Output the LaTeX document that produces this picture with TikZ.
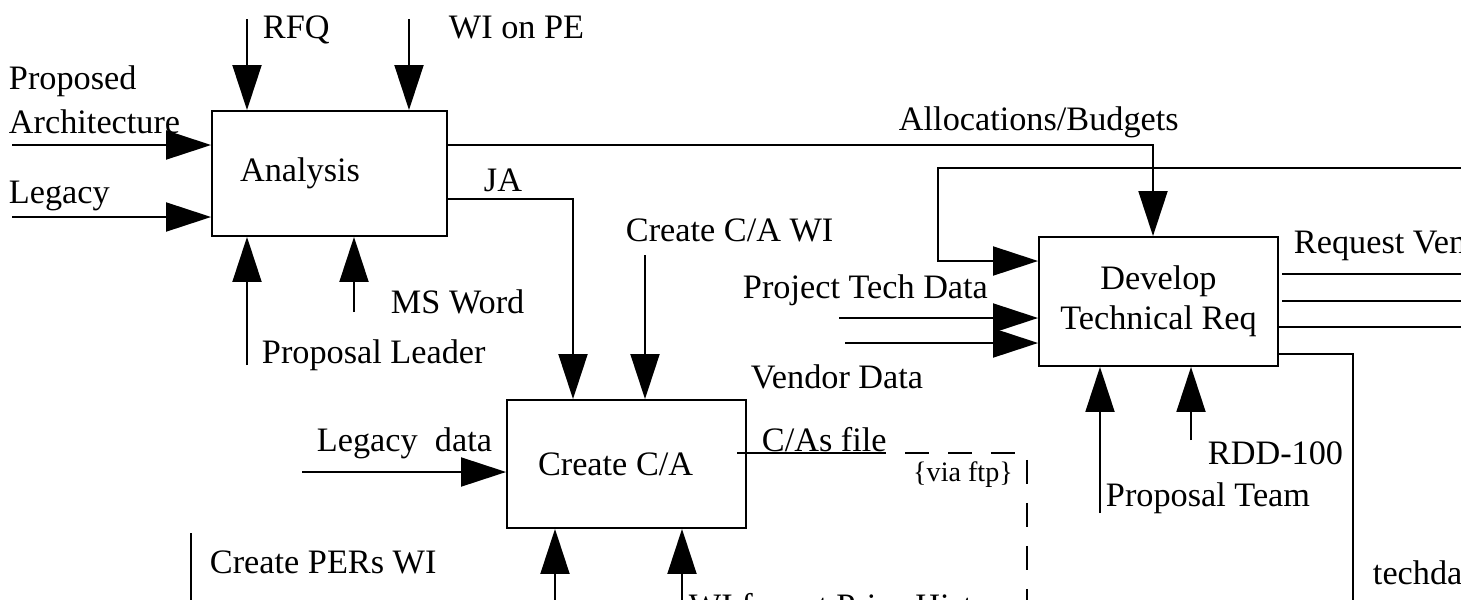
\documentclass[tikz,border=0pt]{standalone}
\usepackage{fontspec}
\setmainfont{Liberation Serif}
\usetikzlibrary{arrows.meta}

\begin{document}
\begin{tikzpicture}[x=0.02cm, y=-0.02cm, line width=1.1pt,
  font=\fontsize{19.5}{22.7}\selectfont,
  proc/.style={draw, minimum width=4.78cm, minimum height=2.56cm, inner sep=0pt},
  feed/.style={-{Triangle[length=0.9cm, width=0.58cm]}},
  lbl/.style={anchor=west, inner sep=0pt}]
\useasboundingbox (0,0) rectangle (1461,599);
\clip (0,0) rectangle (1461,599);

% activity boxes
\node[proc, minimum width=4.7cm, minimum height=2.5cm, text width=3.58cm, align=flush left] (analysis) at (329.5,173.5) {Analysis};
\node[proc, text width=3.54cm, align=flush left] (createca) at (626.5,464) {Create C/A};
\node[proc, minimum height=2.58cm, align=center] (develop) at (1158.5,301.5) {Develop\\Technical Req};

% labels
\node[lbl] (rfqlbl) at (262,30) {RFQ};
\node[lbl] (wipelbl) at (448,28) {WI on PE};
\node[lbl, align=left] (archlbl) at (8,100) {Proposed\\[2.3pt]Architecture};
\node[lbl] (leglbl) at (8,196) {Legacy};
\node[lbl] (mswlbl) at (390,302) {MS Word};
\node[lbl] (pllbl) at (261,355) {Proposal Leader};
\node[lbl] (alloclbl) at (898,122) {Allocations/Budgets};
\node[lbl] (jalbl) at (483,180) {JA};
\node[lbl] (cawilbl) at (625,230) {Create C/A WI};
\node[lbl] (ldlbl) at (316,443) {Legacy\ \ data};
\node[lbl] (perlbl) at (209,562) {Create PERs WI};
\node[lbl] (ptdlbl) at (742,290) {Project Tech Data};
\node[lbl] (vdlbl) at (750,377) {Vendor Data};
\node[lbl, anchor=base west] (cflbl) at (761,451) {C/As file};
\node[font=\fontsize{16}{18}\selectfont] (ftplbl) at (963,475) {\{via ftp\}};
\node[lbl] (ptlbl) at (1105,498) {Proposal Team};
\node[lbl] (rddlbl) at (1207,453) {RDD-100};
\node[lbl] (tdlbl) at (1372,573) {techdata};
\node[lbl] (rvlbl) at (1293,245) {Request Vendor Data};
\node[lbl] (wiplbl) at (688,609) {WI for est Price History};

% analysis: inputs, controls, mechanisms
\coordinate (rfq) at (247,19);
\coordinate (wipe) at (409,19);
\coordinate (arch) at (12,145);
\coordinate (leg) at (12,217);
\coordinate (plead) at (247,365);
\coordinate (msw) at (354,312);
\draw[feed] (rfq) -- (rfq |- analysis.north);
\draw[feed] (wipe) -- (wipe |- analysis.north);
\draw[feed] (arch) -- (arch -| analysis.west);
\draw[feed] (leg) -- (leg -| analysis.west);
\draw[feed] (plead) -- (plead |- analysis.south);
\draw[feed] (msw) -- (msw |- analysis.south);

% analysis outputs
\coordinate (ja) at (573,199);
\draw[feed] (arch -| analysis.east) -| ([xshift=-0.11cm]develop.north);
\draw[feed] (ja -| analysis.east) -| (ja |- createca.north);

% create C/A
\coordinate (cawi) at (645,255);
\coordinate (ldata) at (302,472);
\coordinate (mechl) at (555,610);
\coordinate (mechr) at (682,610);
\coordinate (pers) at (191,533);
\coordinate (persend) at (191,610);
\draw[feed] (cawi) -- (cawi |- createca.north);
\draw[feed] (ldata) -- (ldata -| createca.west);
\draw[feed] (mechl) -- (mechl |- createca.south);
\draw[feed] (mechr) -- (mechr |- createca.south);
\draw (pers) -- (persend);

% C/As file, sent on via ftp
\coordinate (cafile) at (737,453);
\coordinate (cfend) at (886,453);
\coordinate (ftpstart) at (905,453);
\coordinate (ftpturn) at (1027,453);
\coordinate (ftpend) at (1027,610);
\draw (cafile) -- (cfend);
\draw[dash pattern=on 0.48cm off 0.38cm] (ftpstart) -- (ftpturn) -- (ftpend);

% develop technical req
\coordinate (fbin) at (1470,168);
\coordinate (fbturn) at (938,261);
\coordinate (ptdu) at (839,318);
\coordinate (ptdl) at (845,343);
\coordinate (pteam) at (1100,513);
\coordinate (rdd) at (1191,440);
\draw[feed] (fbin) -| (fbturn) -- (fbturn -| develop.west);
\draw[feed] (ptdu) -- (ptdu -| develop.west);
\draw[feed] (ptdl) -- (ptdl -| develop.west);
\draw[feed] (pteam) -- (pteam |- develop.south);
\draw[feed] (rdd) -- (rdd |- develop.south);

% develop outputs
\coordinate (rvu) at (1282,274);
\coordinate (rvuend) at (1470,274);
\coordinate (rvm) at (1282,301);
\coordinate (rvmend) at (1470,301);
\coordinate (rvl) at (1470,327);
\coordinate (tdturn) at (1353,354);
\coordinate (tdend) at (1353,610);
\draw (rvu) -- (rvuend);
\draw (rvm) -- (rvmend);
\draw (rvl -| develop.east) -- (rvl);
\draw (tdturn -| develop.east) -- (tdturn) -- (tdend);
\end{tikzpicture}
\end{document}
